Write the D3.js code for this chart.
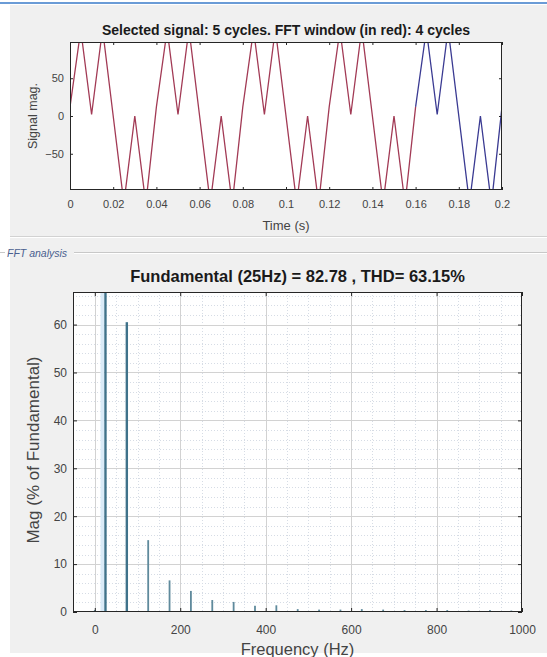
<!DOCTYPE html>
<html>
<head>
<meta charset="utf-8">
<script src="https://cdn.jsdelivr.net/npm/d3@7"></script>
<style>
  html, body { margin: 0; padding: 0; background: #ffffff; }
  svg { display: block; font-family: "Liberation Sans", Arial, sans-serif; }
</style>
</head>
<body>
<svg id="chart" width="547" height="657"></svg>
<script>
// ---------- DATA ----------
// Time-domain signal vertices (s, magnitude)
const sigTime = [
  0.0000, 0.0042, 0.0057, 0.0100, 0.0143, 0.0158, 0.0242, 0.0257, 0.0300, 0.0343, 0.0358,
  0.0400, 0.0442, 0.0457, 0.0500, 0.0543, 0.0558, 0.0642, 0.0657, 0.0700, 0.0743, 0.0758,
  0.0800, 0.0842, 0.0857, 0.0900, 0.0943, 0.0958, 0.1042, 0.1057, 0.1100, 0.1143, 0.1158,
  0.1200, 0.1242, 0.1257, 0.1300, 0.1343, 0.1358, 0.1442, 0.1457, 0.1500, 0.1543, 0.1558,
  0.1600, 0.1642, 0.1657, 0.1700, 0.1743, 0.1758, 0.1842, 0.1857, 0.1900, 0.1943, 0.1958,
  0.2000
];
const sigValue = [
  12, 98, 98, 2, 98, 98, -98, -98, 0, -98, -98,
  12, 98, 98, 2, 98, 98, -98, -98, 0, -98, -98,
  12, 98, 98, 2, 98, 98, -98, -98, 0, -98, -98,
  12, 98, 98, 2, 98, 98, -98, -98, 0, -98, -98,
  12, 98, 98, 2, 98, 98, -98, -98, 0, -98, -98,
  12
];
const fftWindowEnd = 0.16;   // red window: first 4 cycles
const timeTicks = [0, 0.02, 0.04, 0.06, 0.08, 0.1, 0.12, 0.14, 0.16, 0.18, 0.2];
const sigTicks = [-50, 0, 50];

// FFT harmonics (Hz, % of fundamental)
const harmFreq = [0, 25, 75, 125, 175, 225, 275, 325, 375, 425, 475, 525, 575, 625, 675, 725, 775, 825, 875, 925, 975];
const harmMag  = [0.4, 100, 60.5, 15.0, 6.6, 4.4, 2.5, 2.1, 1.3, 1.4, 0.6, 0.5, 0.5, 0.6, 0.5, 0.4, 0.4, 0.4, 0.3, 0.4, 0.3];
const freqTicks = [0, 200, 400, 600, 800, 1000];
const magTicks = [0, 10, 20, 30, 40, 50, 60];

const topTitle = "Selected signal: 5 cycles. FFT window (in red): 4 cycles";
const botTitle = "Fundamental (25Hz) = 82.78 , THD= 63.15%";

// ---------- LAYOUT ----------
const svg = d3.select("#chart");
const W = 547, H = 657;

svg.append("rect").attr("x", 0).attr("y", 0).attr("width", W).attr("height", H).attr("fill", "#ffffff");
svg.append("rect").attr("x", 10).attr("y", 5).attr("width", W - 10).attr("height", 648).attr("fill", "#f0f0f0");
svg.append("rect").attr("x", 0).attr("y", 2).attr("width", W).attr("height", 2).attr("fill", "#6a9bd6");

// panel separators
svg.append("line").attr("x1", 10).attr("x2", W).attr("y1", 236.5).attr("y2", 236.5).attr("stroke", "#d2d2d2");
svg.append("line").attr("x1", 10).attr("x2", W).attr("y1", 237.5).attr("y2", 237.5).attr("stroke", "#ffffff");
svg.append("line").attr("x1", 0).attr("x2", 5).attr("y1", 252.5).attr("y2", 252.5).attr("stroke", "#c8c8c8");
svg.append("line").attr("x1", 74).attr("x2", W).attr("y1", 252.5).attr("y2", 252.5).attr("stroke", "#c8c8c8");
svg.append("line").attr("x1", 74).attr("x2", W).attr("y1", 253.5).attr("y2", 253.5).attr("stroke", "#ffffff");
svg.append("text").attr("x", 7).attr("y", 256.5).attr("font-size", 10.5).attr("font-style", "italic")
  .attr("fill", "#4a5f8f").text("FFT analysis");

const tickColor = "#262626";
const labelColor = "#444444";

// ---------- TOP PLOT ----------
const tp = {l: 70, r: 502, t: 42, b: 190};
const xT = d3.scaleLinear().domain([0, 0.2]).range([tp.l, tp.r]);
const yT = d3.scaleLinear().domain([-98, 98]).range([tp.b, tp.t]);

svg.append("rect").attr("x", tp.l).attr("y", tp.t).attr("width", tp.r - tp.l).attr("height", tp.b - tp.t).attr("fill", "#ffffff");
svg.append("clipPath").attr("id", "clipTop").append("rect")
  .attr("x", tp.l).attr("y", tp.t).attr("width", tp.r - tp.l).attr("height", tp.b - tp.t);

const sig = sigTime.map((t, i) => ({t, v: sigValue[i]}));
const line = d3.line().x(d => xT(d.t)).y(d => yT(d.v));
const gSig = svg.append("g").attr("clip-path", "url(#clipTop)");
gSig.append("path").datum(sig.filter(d => d.t >= fftWindowEnd - 1e-9))
  .attr("d", line).attr("fill", "none").attr("stroke", "#3a3a92").attr("stroke-width", 1.3);
gSig.append("path").datum(sig.filter(d => d.t <= fftWindowEnd + 1e-9))
  .attr("d", line).attr("fill", "none").attr("stroke", "#a23a55").attr("stroke-width", 1.3);

function styleAxis(g, fs) {
  g.select(".domain").remove();
  g.selectAll(".tick line").attr("stroke", tickColor);
  g.selectAll(".tick text").attr("fill", labelColor).attr("font-size", fs);
}
const fmtT = d => String(+d.toFixed(2));
svg.append("g").attr("transform", `translate(0,${tp.b})`)
  .call(d3.axisBottom(xT).tickValues(timeTicks).tickFormat(fmtT).tickSizeInner(-3).tickSizeOuter(0).tickPadding(10))
  .call(g => styleAxis(g, 11));
svg.append("g").attr("transform", `translate(0,${tp.t})`)
  .call(d3.axisTop(xT).tickValues(timeTicks).tickFormat("").tickSizeInner(-3).tickSizeOuter(0))
  .call(g => styleAxis(g, 11));
svg.append("g").attr("transform", `translate(${tp.l},0)`)
  .call(d3.axisLeft(yT).tickValues(sigTicks).tickFormat(d3.format("d")).tickSizeInner(-3).tickSizeOuter(0).tickPadding(6))
  .call(g => styleAxis(g, 11));
svg.append("g").attr("transform", `translate(${tp.r},0)`)
  .call(d3.axisRight(yT).tickValues(sigTicks).tickFormat("").tickSizeInner(-3).tickSizeOuter(0))
  .call(g => styleAxis(g, 11));
svg.append("rect").attr("x", tp.l + 0.5).attr("y", tp.t + 0.5).attr("width", tp.r - tp.l - 1).attr("height", tp.b - tp.t - 1)
  .attr("fill", "none").attr("stroke", tickColor).attr("stroke-width", 1);

svg.append("text").attr("x", (tp.l + tp.r) / 2).attr("y", 35).attr("text-anchor", "middle")
  .attr("font-size", 14).attr("font-weight", "bold").attr("fill", "#1a1a1a").text(topTitle);
svg.append("text").attr("x", (tp.l + tp.r) / 2).attr("y", 230).attr("text-anchor", "middle")
  .attr("font-size", 13).attr("fill", labelColor).text("Time (s)");
svg.append("text").attr("transform", `translate(37,${(tp.t + tp.b) / 2}) rotate(-90)`).attr("text-anchor", "middle")
  .attr("font-size", 12.5).attr("fill", labelColor).text("Signal mag.");

// ---------- BOTTOM PLOT ----------
const bp = {l: 73, r: 522, t: 292, b: 612};
const xB = d3.scaleLinear().domain([-51, 1000]).range([bp.l, bp.r]);
const yB = d3.scaleLinear().domain([0, 66.8]).range([bp.b, bp.t]);

svg.append("rect").attr("x", bp.l).attr("y", bp.t).attr("width", bp.r - bp.l).attr("height", bp.b - bp.t).attr("fill", "#ffffff");
svg.append("clipPath").attr("id", "clipBot").append("rect")
  .attr("x", bp.l).attr("y", bp.t).attr("width", bp.r - bp.l).attr("height", bp.b - bp.t);

const gGrid = svg.append("g").attr("clip-path", "url(#clipBot)");
const minorX = d3.range(-50, 1001, 50).filter(v => v % 200 !== 0);
const minorY = d3.range(2, 67, 2).filter(v => v % 10 !== 0);
gGrid.selectAll(".mx").data(minorX).join("line")
  .attr("x1", d => Math.round(xB(d)) + 0.5).attr("x2", d => Math.round(xB(d)) + 0.5)
  .attr("y1", bp.t).attr("y2", bp.b).attr("stroke", "#d6dce5").attr("stroke-dasharray", "1,2");
gGrid.selectAll(".my").data(minorY).join("line")
  .attr("y1", d => Math.round(yB(d)) + 0.5).attr("y2", d => Math.round(yB(d)) + 0.5)
  .attr("x1", bp.l).attr("x2", bp.r).attr("stroke", "#d6dce5").attr("stroke-dasharray", "1,2");
gGrid.selectAll(".gx").data(freqTicks).join("line")
  .attr("x1", d => Math.round(xB(d)) + 0.5).attr("x2", d => Math.round(xB(d)) + 0.5)
  .attr("y1", bp.t).attr("y2", bp.b).attr("stroke", "#d2d2d2");
gGrid.selectAll(".gy").data(magTicks).join("line")
  .attr("y1", d => Math.round(yB(d)) + 0.5).attr("y2", d => Math.round(yB(d)) + 0.5)
  .attr("x1", bp.l).attr("x2", bp.r).attr("stroke", "#d2d2d2");

// light highlight band beside fundamental
const fundIdx = harmMag.indexOf(d3.max(harmMag));
gGrid.append("rect").attr("x", xB(harmFreq[fundIdx]) - 5).attr("y", bp.t).attr("width", 3.5).attr("height", bp.b - bp.t)
  .attr("fill", "#d9eaf7");

const harm = harmFreq.map((f, i) => ({f, m: harmMag[i]}));
gGrid.selectAll(".bar").data(harm).join("rect")
  .attr("x", d => xB(d.f) - (d.m >= 50 ? 1.2 : 0.9))
  .attr("width", d => d.m >= 50 ? 2.4 : 1.8)
  .attr("y", d => yB(d.m)).attr("height", d => yB(0) - yB(d.m))
  .attr("fill", d => d.m >= 50 ? "#3f728a" : "#5f8a9c");

svg.append("g").attr("transform", `translate(0,${bp.b})`)
  .call(d3.axisBottom(xB).tickValues(freqTicks).tickFormat(d3.format("d")).tickSizeInner(-4).tickSizeOuter(0).tickPadding(13))
  .call(g => styleAxis(g, 12));
svg.append("g").attr("transform", `translate(0,${bp.t})`)
  .call(d3.axisTop(xB).tickValues(freqTicks).tickFormat("").tickSizeInner(-4).tickSizeOuter(0))
  .call(g => styleAxis(g, 12));
svg.append("g").attr("transform", `translate(${bp.l},0)`)
  .call(d3.axisLeft(yB).tickValues(magTicks).tickFormat(d3.format("d")).tickSizeInner(-4).tickSizeOuter(0).tickPadding(6))
  .call(g => styleAxis(g, 12));
svg.append("g").attr("transform", `translate(${bp.r},0)`)
  .call(d3.axisRight(yB).tickValues(magTicks).tickFormat("").tickSizeInner(-4).tickSizeOuter(0))
  .call(g => styleAxis(g, 12));
svg.append("rect").attr("x", bp.l + 0.5).attr("y", bp.t + 0.5).attr("width", bp.r - bp.l - 1).attr("height", bp.b - bp.t - 1)
  .attr("fill", "none").attr("stroke", tickColor).attr("stroke-width", 1);

svg.append("text").attr("x", (bp.l + bp.r) / 2).attr("y", 282).attr("text-anchor", "middle")
  .attr("font-size", 16.5).attr("font-weight", "bold").attr("fill", "#1a1a1a").text(botTitle);
svg.append("text").attr("x", (bp.l + bp.r) / 2).attr("y", 655).attr("text-anchor", "middle")
  .attr("font-size", 16.5).attr("fill", labelColor).text("Frequency (Hz)");
svg.append("text").attr("transform", `translate(39,${(bp.t + bp.b) / 2 - 2}) rotate(-90)`).attr("text-anchor", "middle")
  .attr("font-size", 17).attr("fill", labelColor).text("Mag (% of Fundamental)");
</script>
</body>
</html>
